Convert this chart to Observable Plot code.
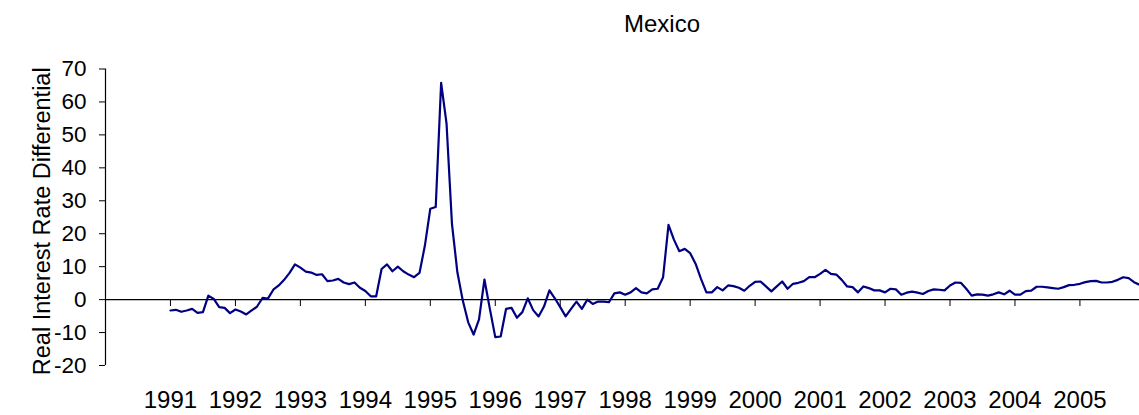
<!DOCTYPE html>
<html>
<head>
<meta charset="utf-8">
<script src="https://cdn.jsdelivr.net/npm/d3@7"></script>
<script src="https://cdn.jsdelivr.net/npm/@observablehq/plot@0.6"></script>
<style>
  html, body { margin: 0; padding: 0; background: #fff; }
  #title { width: 1139px; height: 48px; line-height: 48px; box-sizing: border-box; padding-left: 185px; text-align: center;
           font-family: "Liberation Sans", Arial, sans-serif; font-size: 24px; color: #000; }
</style>
</head>
<body>
<div id="title">Mexico</div>
<div id="chart"></div>
<script>
const chartTitle = "Mexico";
const yLabel = "Real Interest Rate Differential";
const startYear = 1991;           // first month: January 1991, monthly observations
const xStart = 1990;              // left edge of the category axis
const xEnd = 2005.917;
const yearTicks = [1991,1992,1993,1994,1995,1996,1997,1998,1999,2000,2001,2002,2003,2004,2005];
const yTicks = [-20,-10,0,10,20,30,40,50,60,70];
const values = [
  -3.3,-3.1,-3.7,-3.3,-2.8,-4.0,-3.8,1.2,0.2,-2.3,-2.5,-4.1,
  -3.0,-3.6,-4.5,-3.3,-2.1,0.5,0.3,3.0,4.3,6.0,8.1,10.7,
  9.7,8.5,8.2,7.5,7.7,5.6,5.8,6.3,5.2,4.7,5.2,3.6,
  2.6,1.0,1.0,9.3,10.7,8.6,10.0,8.6,7.6,6.8,8.1,16.4,
  27.6,28.1,65.8,53.4,23.0,8.3,-0.3,-6.9,-10.6,-6.0,6.1,-2.8,
  -11.4,-11.2,-2.8,-2.5,-5.5,-3.8,0.4,-3.2,-5.1,-2.1,2.8,0.4,
  -2.3,-5.1,-2.8,-0.6,-2.8,0.0,-1.3,-0.6,-0.6,-0.8,1.9,2.2,
  1.5,2.2,3.5,2.2,1.9,3.1,3.3,6.8,22.7,18.2,14.7,15.4,
  14.1,10.9,6.3,2.2,2.2,3.8,2.8,4.3,4.1,3.6,2.7,4.2,
  5.4,5.5,4.0,2.5,4.0,5.5,3.3,4.8,5.1,5.6,6.8,6.8,
  7.8,9.0,7.8,7.6,6.0,4.0,3.8,2.2,4.0,3.5,2.8,2.8,
  2.2,3.3,3.1,1.5,2.1,2.4,2.1,1.7,2.6,3.1,3.0,2.8,
  4.3,5.2,5.1,3.3,1.2,1.6,1.5,1.2,1.6,2.2,1.6,2.7,
  1.5,1.5,2.6,2.7,3.9,3.9,3.7,3.5,3.3,3.8,4.4,4.5,
  4.8,5.3,5.6,5.7,5.2,5.2,5.4,6.0,6.8,6.5,5.3,4.5
];
const data = values.map((v, i) => ({t: startYear + i / 12, v}));

document.getElementById("title").textContent = chartTitle;

const chart = Plot.plot({
  width: 1139,
  height: 367,
  marginTop: 20.5,
  marginBottom: 50,
  marginLeft: 105,
  marginRight: 0,
  style: {fontFamily: "'Liberation Sans', Arial, sans-serif", fontSize: "24px", color: "#000", background: "#fff", overflow: "visible"},
  x: {type: "linear", domain: [xStart, xEnd]},
  y: {domain: [-20, 70]},
  marks: [
    Plot.ruleY([0], {stroke: "#000", strokeWidth: 1.2}),
    Plot.ruleX([xStart], {y1: -20, y2: 70, stroke: "#000", strokeWidth: 1.2}),
    Plot.ruleX(yearTicks, {x: d => d, y1: 0, y2: -2.1, stroke: "#000", strokeWidth: 1}),
    Plot.axisY({ticks: yTicks, tickSize: 6, tickPadding: 13, tickFormat: d => `${d}`, label: null, stroke: "#000", fontSize: 22.5}),
    Plot.axisX({ticks: yearTicks, tickSize: 0, tickPadding: 25, tickFormat: d => `${d}`, label: null}),
    Plot.line(data, {x: "t", y: "v", stroke: "#000080", strokeWidth: 2.2, clip: true}),
    Plot.text([yLabel], {frameAnchor: "left", textAnchor: "middle", rotate: -90, dx: -63, dy: 4, fontSize: 23.5})
  ]
});
document.getElementById("chart").appendChild(chart);
</script>
</body>
</html>
